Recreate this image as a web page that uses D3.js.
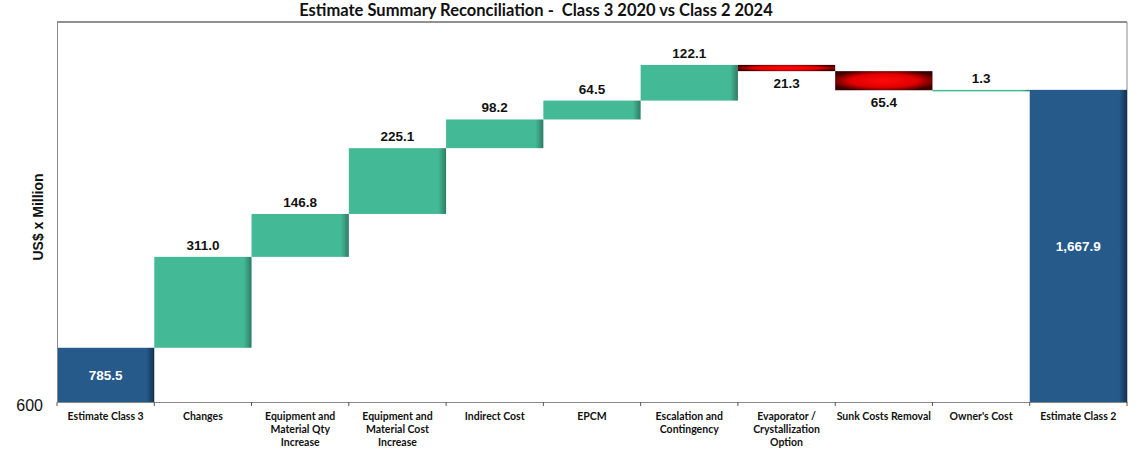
<!DOCTYPE html>
<html>
<head>
<meta charset="utf-8">
<script src="https://cdn.jsdelivr.net/npm/d3@7"></script>
<style>
  body { margin: 0; background: #fff; }
  svg { display: block; }
</style>
</head>
<body>
<div id="chart"></div>
<script>
// categories and values (US$ x Million)
const categories = [
    "Estimate Class 3", "Changes", "Equipment and\nMaterial Qty\nIncrease",
    "Equipment and\nMaterial Cost\nIncrease", "Indirect Cost", "EPCM",
    "Escalation and\nContingency", "Evaporator /\nCrystallization\nOption",
    "Sunk Costs Removal", "Owner's Cost", "Estimate Class 2"
];
const deltas = [785.5, 311.0, 146.8, 225.1, 98.2, 64.5, 122.1, -21.3, -65.4, 1.3, 1667.9];
const kinds = ["total", "up", "up", "up", "up", "up", "up", "down", "down", "up", "total"];
const yTicks = [600];
const yDomain = [600, 1900];

const width = 1139, height = 455;
const m = { t: 22, r: 12, b: 53, l: 57 };
const iw = width - m.l - m.r, ih = height - m.t - m.b;

const svg = d3.select("#chart").append("svg").attr("width", width).attr("height", height);
const defs = svg.append("defs");

function sideGrad(id, base, dark) {
    const g = defs.append("linearGradient").attr("id", id).attr("x1", 0).attr("x2", 1).attr("y1", 0).attr("y2", 0);
    g.append("stop").attr("offset", "0%").attr("stop-color", base);
    g.append("stop").attr("offset", "92%").attr("stop-color", base);
    g.append("stop").attr("offset", "100%").attr("stop-color", dark);
}
sideGrad("gUp", "#44b995", "#2d7c63");
sideGrad("gTot", "#255a8a", "#14314d");
const rg = defs.append("radialGradient").attr("id", "gDown").attr("cx", "50%").attr("cy", "50%").attr("r", "58%");
rg.append("stop").attr("offset", "0%").attr("stop-color", "#ff0a0a");
rg.append("stop").attr("offset", "60%").attr("stop-color", "#e00000");
rg.append("stop").attr("offset", "100%").attr("stop-color", "#3a0000");

// running totals for waterfall
let run = 0;
const rows = categories.map((c, i) => {
    let y0, y1;
    if (kinds[i] === "total") { y0 = yDomain[0]; y1 = deltas[i]; run = deltas[i]; }
    else { y0 = run; y1 = run + deltas[i]; run = y1; }
    return { cat: c, value: deltas[i], kind: kinds[i], lo: Math.min(y0, y1), hi: Math.max(y0, y1) };
});

const g = svg.append("g").attr("transform", `translate(${m.l},${m.t})`);
const x = d3.scaleBand().domain(categories).range([0, iw]).padding(0);
const y = d3.scaleLinear().domain(yDomain).range([ih, 0]);

// frame
g.append("line").attr("x1", 0).attr("x2", iw).attr("y1", 0).attr("y2", 0).attr("stroke", "#222").attr("stroke-width", 1);
g.append("line").attr("x1", iw).attr("x2", iw).attr("y1", 0).attr("y2", ih).attr("stroke", "#888");

const fills = { up: "url(#gUp)", down: "url(#gDown)", total: "url(#gTot)" };
g.selectAll("rect.bar").data(rows).enter().append("rect")
    .attr("class", "bar")
    .attr("x", d => x(d.cat)).attr("width", x.bandwidth())
    .attr("y", d => y(d.hi))
    .attr("height", d => Math.max(1.5, y(d.lo) - y(d.hi)))
    .attr("fill", d => fills[d.kind]);

// value labels
const fmt = d3.format(",.1f");
g.selectAll("text.val").data(rows).enter().append("text")
    .attr("class", "val")
    .attr("x", d => x(d.cat) + x.bandwidth() / 2)
    .attr("y", d => d.kind === "total" ? (y(d.lo) + y(d.hi)) / 2 + 5
        : d.kind === "down" ? y(d.lo) + 17 : y(d.hi) - 7)
    .attr("text-anchor", "middle")
    .attr("font-family", "Liberation Sans, Arial, sans-serif")
    .attr("font-weight", "bold").attr("font-size", 13.5)
    .attr("fill", d => d.kind === "total" ? "#fff" : "#111")
    .text(d => fmt(Math.abs(d.value)));

// y axis
const ya = g.append("g").call(d3.axisLeft(y).tickValues(yTicks).tickSize(0).tickPadding(14));
ya.select(".domain").attr("stroke", "#888");
ya.selectAll("text").attr("font-family", "Liberation Sans, Arial, sans-serif").attr("font-size", 16).attr("fill", "#111").attr("dy", "0.5em");

// x axis
const xa = g.append("g").attr("transform", `translate(0,${ih})`)
    .call(d3.axisBottom(x).tickSize(0).tickFormat(""));
xa.select(".domain").attr("stroke", "#888");
xa.selectAll(".tick").remove();
const edges = categories.map(c => x(c)).concat([iw]);
xa.selectAll("line.edge").data(edges).enter().append("line")
    .attr("class", "edge").attr("x1", d => d).attr("x2", d => d)
    .attr("y1", 0).attr("y2", 4).attr("stroke", "#555");

const lab = xa.selectAll("text.cat").data(categories).enter().append("text")
    .attr("class", "cat")
    .attr("x", d => x(d) + x.bandwidth() / 2)
    .attr("y", 18)
    .attr("text-anchor", "middle")
    .attr("font-family", "Lato, Carlito, sans-serif")
    .attr("font-weight", "bold").attr("font-size", 10.5).attr("fill", "#111");
lab.each(function (d) {
    const t = d3.select(this);
    d.split("\n").forEach((line, i) => {
        t.append("tspan").attr("x", x(d) + x.bandwidth() / 2).attr("dy", i ? 13 : 0).text(line);
    });
});

// y label
svg.append("text")
    .attr("transform", `translate(43,${m.t + ih / 2 + 5}) rotate(-90)`)
    .attr("text-anchor", "middle")
    .attr("font-family", "Liberation Sans, Arial, sans-serif")
    .attr("font-weight", "bold").attr("font-size", 14).attr("fill", "#111")
    .text("US$ x Million");

// title
svg.append("text")
    .attr("x", 536).attr("y", 16)
    .attr("text-anchor", "middle")
    .attr("font-family", "Lato, Carlito, sans-serif")
    .attr("font-weight", "bold").attr("font-size", 16.5).attr("fill", "#111")
    .attr("xml:space", "preserve")
    .text("Estimate Summary Reconciliation -  Class 3 2020 vs Class 2 2024");
</script>
</body>
</html>
